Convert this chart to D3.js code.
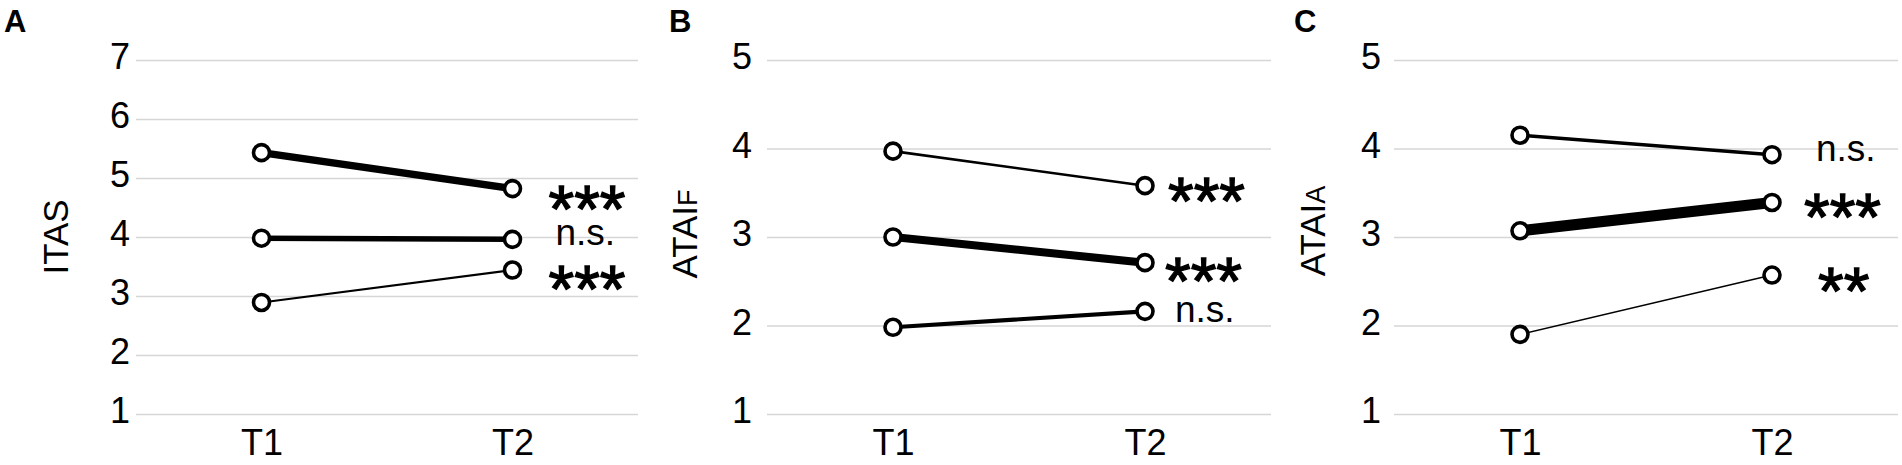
<!DOCTYPE html>
<html><head><meta charset="utf-8">
<script src="https://cdn.jsdelivr.net/npm/d3@7"></script>
<style>
body{margin:0;background:#fff}
svg{display:block}
text{font-family:"Liberation Sans", Arial, sans-serif; fill:#000}
</style>
</head><body><svg id="chart" width="1902" height="465"></svg>
<script>
// ---------- data ----------
const timepoints = ["T1", "T2"];

// Panel A: ITAS
const itasTicks = [1, 2, 3, 4, 5, 6, 7];
const itasGroup1 = [5.43, 4.82];
const itasGroup2 = [3.98, 3.96];
const itasGroup3 = [2.89, 3.44];
const itasSig = ["***", "n.s.", "***"];

// Panel B: ATAI F
const ataifTicks = [1, 2, 3, 4, 5];
const ataifGroup1 = [3.97, 3.58];
const ataifGroup2 = [3.00, 2.71];
const ataifGroup3 = [1.98, 2.16];
const ataifSig = ["***", "***", "n.s."];

// Panel C: ATAI A
const ataiaTicks = [1, 2, 3, 4, 5];
const ataiaGroup1 = [4.15, 3.93];
const ataiaGroup2 = [3.07, 3.39];
const ataiaGroup3 = [1.90, 2.57];
const ataiaSig = ["n.s.", "***", "**"];

// ---------- layout / style ----------
const plotTop = 60, plotBottom = 414;
const panels = [
  { letter: "A", title: "ITAS", sub: "", ticks: itasTicks, domain: [1, 7],
    series: [itasGroup1, itasGroup2, itasGroup3], sig: itasSig,
    x0: 136, x1: 638, tickPad: 6, letterX: 4, titleX: 68, titleY: 237,
    widths: [7.5, 5.5, 2.2], ann: [[38, 5], [45, -4], [38, 3.5]] },
  { letter: "B", title: "ATAI", sub: "F", ticks: ataifTicks, domain: [1, 5],
    series: [ataifGroup1, ataifGroup2, ataifGroup3], sig: ataifSig,
    x0: 767, x1: 1271, tickPad: 15, letterX: 669, titleX: 697, titleY: 234,
    widths: [2.6, 8, 4.2], ann: [[25, 0], [22, 3], [32, 1]] },
  { letter: "C", title: "ATAI", sub: "A", ticks: ataiaTicks, domain: [1, 5],
    series: [ataiaGroup1, ataiaGroup2, ataiaGroup3], sig: ataiaSig,
    x0: 1394, x1: 1898, tickPad: 13, letterX: 1294, titleX: 1325, titleY: 231,
    widths: [3.6, 11, 1.4], ann: [[46, -3], [34, 0], [48, 1]] }
];

const svg = d3.select("#chart");

panels.forEach(p => {
  const g = svg.append("g");
  const x = d3.scalePoint().domain(timepoints).range([p.x0, p.x1]).padding(0.5);
  const y = d3.scaleLinear().domain(p.domain).range([plotBottom, plotTop]);

  // y axis with gridlines
  const ya = g.append("g").attr("transform", `translate(${p.x0},0)`)
    .call(d3.axisLeft(y).tickValues(p.ticks).tickFormat(d3.format("d"))
      .tickSize(-(p.x1 - p.x0)).tickPadding(p.tickPad));
  ya.select(".domain").remove();
  ya.selectAll(".tick line").attr("stroke", "#d6d6d6").attr("stroke-width", 1.5);
  ya.selectAll(".tick text").attr("font-size", 36).attr("dy", "0.24em")
    .style("font-family", '"Liberation Sans", Arial, sans-serif').attr("fill", "#000");

  // x axis labels
  const xa = g.append("g").attr("transform", `translate(0,${plotBottom})`)
    .call(d3.axisBottom(x).tickSize(0).tickPadding(15));
  xa.select(".domain").remove();
  xa.selectAll(".tick text").attr("font-size", 36)
    .style("font-family", '"Liberation Sans", Arial, sans-serif').attr("fill", "#000");

  // panel letter
  g.append("text").attr("x", p.letterX).attr("y", 32)
    .attr("font-size", 31).attr("font-weight", "bold").text(p.letter);

  // y title
  const t = g.append("text")
    .attr("transform", `translate(${p.titleX},${p.titleY}) rotate(-90)`)
    .attr("text-anchor", "middle").attr("font-size", 35).text(p.title);
  if (p.sub) t.append("tspan").attr("font-size", 27).text(p.sub);

  // lines
  const line = d3.line().x((d, i) => x(timepoints[i])).y(d => y(d));
  p.series.forEach((s, k) => {
    g.append("path").datum(s).attr("d", line)
      .attr("fill", "none").attr("stroke", "#000")
      .attr("stroke-width", p.widths[k]).attr("stroke-linecap", "round");
  });
  // circles
  p.series.forEach(s => {
    g.selectAll(null).data(s).enter().append("circle")
      .attr("cx", (d, i) => x(timepoints[i])).attr("cy", d => y(d))
      .attr("r", 8).attr("fill", "#fff").attr("stroke", "#000").attr("stroke-width", 3.6);
  });
  // significance labels
  p.series.forEach((s, k) => {
    const lab = p.sig[k];
    const cx = x(timepoints[1]) + p.ann[k][0];
    const cy = y(s[1]) + p.ann[k][1];
    const isStar = lab.indexOf("*") >= 0;
    const txt = g.append("text")
      .attr("x", cx - 2)
      .attr("y", isStar ? cy + 38 : cy + 9.5)
      .attr("font-size", isStar ? 66 : 37)
      .text(lab);
    if (isStar) txt.attr("stroke", "#000").attr("stroke-width", 1.3);
  });
});
</script>
</body></html>
